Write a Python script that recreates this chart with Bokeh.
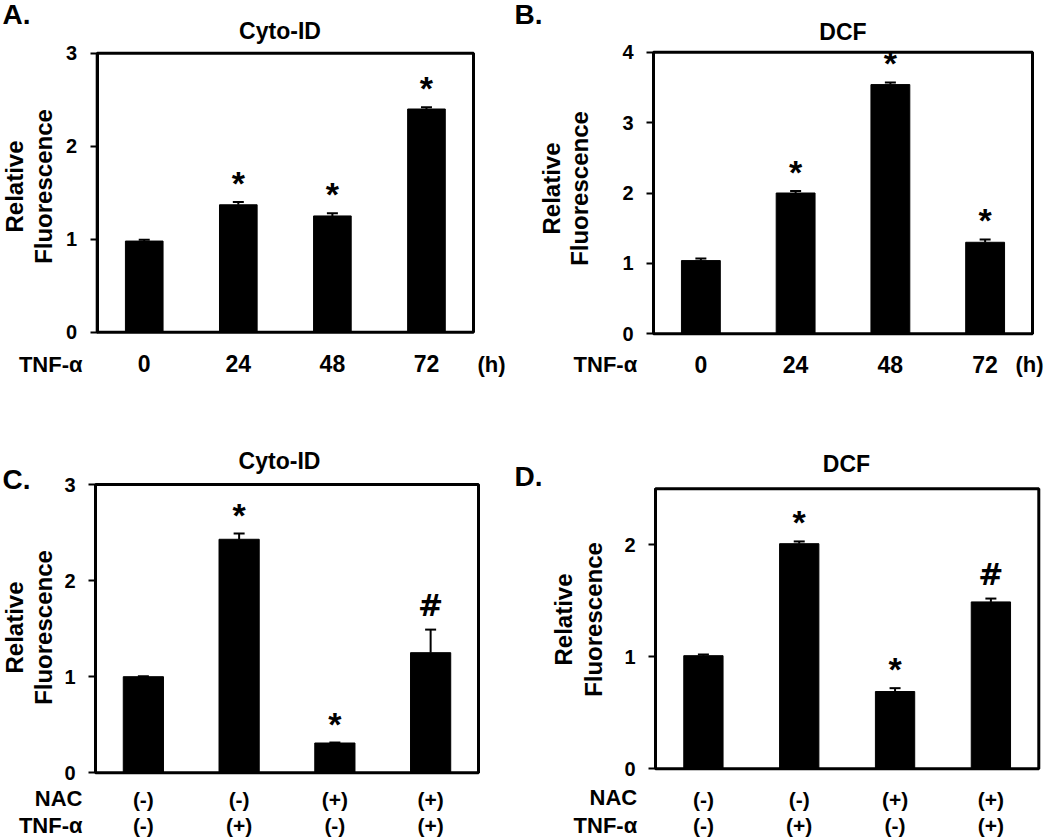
from math import pi
from bokeh.plotting import figure
from bokeh.models import (Range1d, FixedTicker, LinearAxis, Label, Whisker,
                          TeeHead, ColumnDataSource)
from bokeh.layouts import column, row
from bokeh.embed import file_html
from bokeh.resources import INLINE
from bokeh.core.properties import value

FONT = "Liberation Sans"

# ---------------- data ----------------
time_labels = ["0", "24", "48", "72"]

cyto_time = [0.98, 1.37, 1.25, 2.40]
cyto_time_err = [0.015, 0.03, 0.03, 0.02]
cyto_time_marks = ["", "*", "*", "*"]

dcf_time = [1.04, 2.00, 3.54, 1.30]
dcf_time_err = [0.03, 0.03, 0.03, 0.04]
dcf_time_marks = ["", "*", "*", "*"]

nac_labels = ["(-)", "(-)", "(+)", "(+)"]
tnf_labels = ["(-)", "(+)", "(-)", "(+)"]

cyto_nac = [1.00, 2.43, 0.31, 1.25]
cyto_nac_err = [0.005, 0.06, 0.005, 0.24]
cyto_nac_marks = ["", "*", "*", "#"]

dcf_nac = [1.01, 2.01, 0.69, 1.49]
dcf_nac_err = [0.01, 0.02, 0.03, 0.03]
dcf_nac_marks = ["", "*", "*", "#"]

K_BASE = 0.38  # correction of label baseline placement (fraction of font size)


def style_axis(ax, size, standoff):
    ax.major_label_standoff = standoff
    ax.major_label_text_font = FONT
    ax.major_label_text_font_style = "bold"
    ax.major_label_text_font_size = size
    ax.major_label_text_color = "black"
    ax.minor_tick_line_color = None


def make_panel(origin, W, H, box, ymax, yticks, bar_w, vals, errs, marks,
               row_labels, texts):
    """box = (left, top, right, bottom) of the plot box in page pixels."""
    ox, oy = origin
    n = len(vals)
    L, T = box[0] - ox, box[1] - oy
    FW, FH = box[2] - box[0], box[3] - box[1]
    sx = FW / n
    sy = FH / ymax
    xa = 0.5 - L / sx
    xb = xa + W / sx
    yb = ymax + T / sy
    ya = yb - H / sy
    p = figure(width=W, height=H, x_range=Range1d(xa, xb), y_range=Range1d(ya, yb),
               output_backend="svg", toolbar_location=None, min_border=0,
               x_axis_location=None, y_axis_location=None)
    p.xgrid.visible = False
    p.ygrid.visible = False
    p.outline_line_color = None
    p.background_fill_color = "white"
    p.border_fill_color = "white"

    def dx(px):
        return xa + (px - ox) / sx

    def dy(py):
        return yb - (py - oy) / sy

    xs = list(range(1, n + 1))
    ups = [v + e for v, e in zip(vals, errs)]
    src = ColumnDataSource(dict(x=xs, top=vals, up=ups))

    p.vbar(x="x", top="top", width=bar_w, source=src,
           fill_color="black", line_color="black")
    wh = Whisker(base="x", lower="top", upper="up", source=src,
                 line_color="black", line_width=2, lower_head=None,
                 upper_head=TeeHead(size=11, line_color="black", line_width=2),
                 level="glyph")
    p.add_layout(wh)

    # plot box
    p.quad(left=[0.5], right=[n + 0.5], bottom=[0], top=[ymax],
           fill_color=None, line_color="black", line_width=3)

    # significance marks
    for sym, font, size, off in (("*", FONT, "34px", -19),
                                 ("#", "DejaVu Sans", "30px", -24)):
        msrc = ColumnDataSource(dict(
            x=[x for x, m in zip(xs, marks) if m == sym],
            y=[u for u, m in zip(ups, marks) if m == sym],
            t=[m for m in marks if m == sym]))
        p.text(x="x", y="y", text="t", source=msrc, text_font=value(font),
               text_font_style=value("bold"), text_font_size=value(size),
               text_align="center", text_baseline="alphabetic",
               y_offset=off, text_color="black")

    # y axis on the left edge of the box
    yax = LinearAxis(fixed_location=0.5, bounds=(0, ymax),
                     ticker=FixedTicker(ticks=yticks))
    yax.axis_line_width = 3
    yax.axis_line_color = "black"
    yax.major_tick_out = 7
    yax.major_tick_in = 0
    yax.major_tick_line_width = 2
    yax.major_tick_line_color = "black"
    style_axis(yax, "20px", 13)
    p.add_layout(yax, "left")

    # category rows under the box
    for labels, size, standoff in row_labels:
        xax = LinearAxis(fixed_location=0, bounds=(0.5, n + 0.5),
                         ticker=FixedTicker(ticks=xs))
        xax.major_label_overrides = {x: l for x, l in zip(xs, labels)}
        xax.axis_line_color = None
        xax.major_tick_line_color = None
        xax.major_tick_out = 0
        xax.major_tick_in = 0
        style_axis(xax, size, standoff)
        p.add_layout(xax, "below")

    # free texts (page coordinates of the wanted baseline)
    for text, px, py, size, align, angle in texts:
        off = K_BASE * float(size.replace("px", ""))
        if angle:
            px -= off
        else:
            py -= off
        p.add_layout(Label(x=dx(px), y=dy(py), text=text, text_font=FONT,
                           text_font_style="bold", text_font_size=size,
                           text_align=align, text_baseline="alphabetic",
                           angle=angle, text_color="black"))
    return p


R = pi / 2

# ---------------- panel A ----------------
pA = make_panel((0, 0), 512, 420, (96.7, 52.7, 473, 331.7), 3, [0, 1, 2, 3], 0.40,
                cyto_time, cyto_time_err, cyto_time_marks,
                [(time_labels, "23px", 23)],
                [("A.", 2, 25, "28px", "left", 0),
                 ("Cyto-ID", 279.5, 39.5, "23px", "center", 0),
                 ("Relative", 23, 186, "24px", "center", R),
                 ("Fluorescence", 52, 186, "24px", "center", R),
                 ("TNF-α", 82, 372.5, "22px", "right", 0),
                 ("(h)", 477, 372.5, "22px", "left", 0)])

# ---------------- panel B ----------------
pB = make_panel((512, 0), 538, 420, (653, 51.7, 1032, 333.3), 4, [0, 1, 2, 3, 4], 0.41,
                dcf_time, dcf_time_err, dcf_time_marks,
                [(time_labels, "23px", 22)],
                [("B.", 514, 25, "28px", "left", 0),
                 ("DCF", 842.5, 40, "23px", "center", 0),
                 ("Relative", 560, 188, "24px", "center", R),
                 ("Fluorescence", 588, 188, "24px", "center", R),
                 ("TNF-α", 636.7, 372.5, "22px", "right", 0),
                 ("(h)", 1015, 372.5, "22px", "left", 0)])

# ---------------- panel C ----------------
pC = make_panel((0, 420), 512, 419, (95, 484, 478, 772.3), 3, [0, 1, 2, 3], 0.42,
                cyto_nac, cyto_nac_err, cyto_nac_marks,
                [(nac_labels, "21px", 15), (tnf_labels, "21px", 41)],
                [("C.", 2, 490, "28px", "left", 0),
                 ("Cyto-ID", 279, 469, "23px", "center", 0),
                 ("Relative", 23, 627, "24px", "center", R),
                 ("Fluorescence", 52, 627, "24px", "center", R),
                 ("NAC", 82, 806.5, "22px", "right", 0),
                 ("TNF-α", 82, 833, "22px", "right", 0)])

# ---------------- panel D ----------------
pD = make_panel((512, 420), 538, 419, (655, 488.3, 1038.3, 768.3), 2.5, [0, 1, 2], 0.41,
                dcf_nac, dcf_nac_err, dcf_nac_marks,
                [(nac_labels, "21px", 19), (tnf_labels, "21px", 45)],
                [("D.", 514, 487, "28px", "left", 0),
                 ("DCF", 846, 472, "23px", "center", 0),
                 ("Relative", 571.7, 619, "24px", "center", R),
                 ("Fluorescence", 601.7, 619, "24px", "center", R),
                 ("NAC", 636.7, 805.5, "22px", "right", 0),
                 ("TNF-α", 636.7, 833, "22px", "right", 0)])

layout = column(row(pA, pB), row(pC, pD))
open("out.html", "w").write(file_html(layout, INLINE))
